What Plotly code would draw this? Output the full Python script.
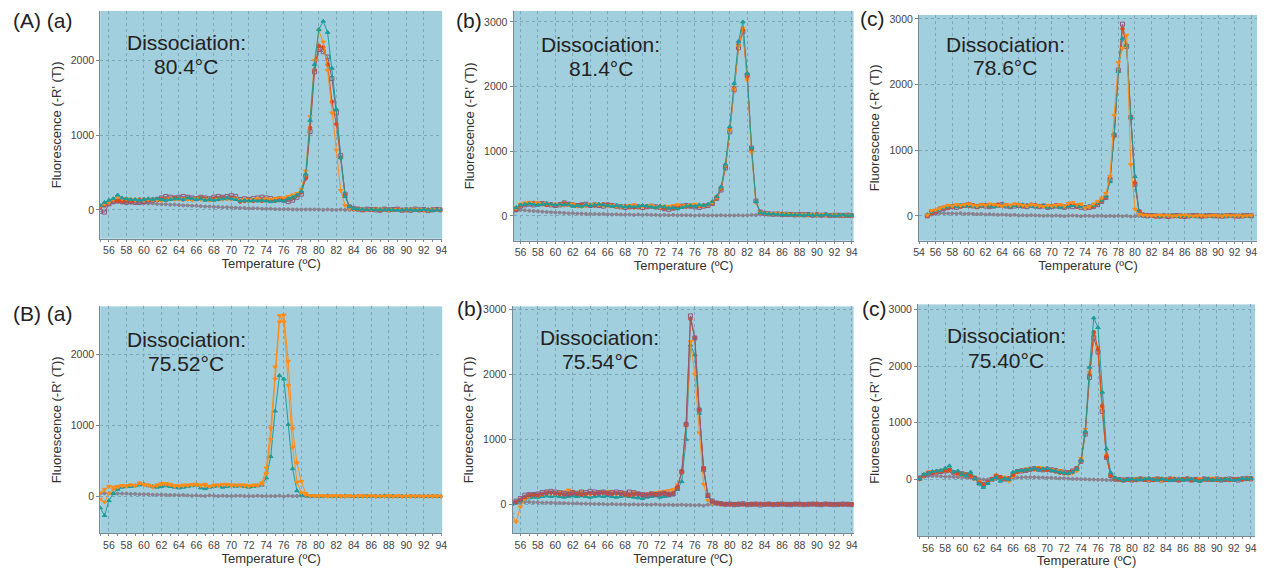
import plotly.graph_objects as go

W, H = 1267, 568

# ---------------- data ----------------
TEMP = [55.0, 55.5, 56.0, 56.5, 57.0, 57.5, 58.0, 58.5, 59.0, 59.5,
        60.0, 60.5, 61.0, 61.5, 62.0, 62.5, 63.0, 63.5, 64.0, 64.5,
        65.0, 65.5, 66.0, 66.5, 67.0, 67.5, 68.0, 68.5, 69.0, 69.5,
        70.0, 70.5, 71.0, 71.5, 72.0, 72.5, 73.0, 73.5, 74.0, 74.5,
        75.0, 75.5, 76.0, 76.5, 77.0, 77.5, 78.0, 78.5, 79.0, 79.5,
        80.0, 80.5, 81.0, 81.5, 82.0, 82.5, 83.0, 83.5, 84.0, 84.5,
        85.0, 85.5, 86.0, 86.5, 87.0, 87.5, 88.0, 88.5, 89.0, 89.5,
        90.0, 90.5, 91.0, 91.5, 92.0, 92.5, 93.0, 93.5, 94.0]

PANEL_LABELS = ["(A) (a)", "(b)", "(c)", "(B) (a)", "(b)", "(c)"]
TM_LABELS = ["80.4°C", "81.4°C", "78.6°C", "75.52°C", "75.54°C", "75.40°C"]
X_TITLE = "Temperature (ºC)"
Y_TITLE = "Fluorescence (-R' (T))"

# Panel A(a)
AA_TEAL = [60, 100, 130, 150, 200, 160, 150, 140, 140, 130,
           140, 150, 140, 150, 140, 130, 140, 150, 150, 140,
           160, 150, 140, 150, 130, 140, 130, 140, 150, 160,
           150, 140, 120, 130, 120, 130, 120, 130, 120, 110,
           120, 130, 120, 150, 170, 200, 250, 480, 1200, 1950,
           2420, 2530, 2380, 1900, 1350, 700, 180, 40, 20, 10,
           10, 5, 10, 0, 5, 0, 5, 0, -5, 0,
           5, 0, -5, 0, 5, 0, -5, 0, 0]
AA_ORANGE = [50, 80, 100, 140, 170, 150, 150, 140, 130, 130,
             130, 140, 140, 130, 120, 130, 150, 140, 140, 150,
             140, 130, 150, 140, 140, 130, 130, 140, 140, 150,
             140, 150, 130, 140, 130, 140, 150, 140, 150, 140,
             150, 160, 160, 180, 200, 220, 280, 520, 1250, 2000,
             2400, 2250, 1870, 1300, 800, 260, 60, 20, 10, 5,
             10, 0, 5, 0, 10, 0, -5, 5, 0, 0,
             5, 0, 0, 5, 0, -5, 0, 0, 5]
AA_RED = [40, 70, 110, 130, 120, 120, 130, 120, 130, 140,
          140, 130, 140, 140, 150, 140, 150, 160, 150, 140,
          150, 140, 150, 160, 150, 140, 150, 150, 160, 150,
          160, 150, 110, 120, 130, 120, 130, 120, 130, 130,
          120, 130, 140, 150, 160, 200, 240, 420, 1100, 1880,
          2200, 2180, 1950, 1450, 1150, 700, 200, 40, 10, 10,
          5, 0, 5, 10, 0, 5, 0, 0, 5, 0,
          0, 5, 0, 0, -5, 0, 5, 0, 0]
AA_PURPLE = [-20, -30, 80, 110, 120, 110, 100, 110, 100, 100,
             110, 120, 130, 140, 160, 180, 170, 160, 170, 180,
             170, 160, 150, 170, 160, 150, 170, 180, 170, 180,
             190, 180, 140, 150, 140, 150, 160, 170, 160, 150,
             140, 150, 130, 110, 130, 170, 210, 450, 1050, 1850,
             2150, 2120, 2050, 1760, 1300, 730, 210, 40, 20, 10,
             0, 10, 5, 0, -5, 10, 0, 5, 10, -5,
             0, -5, 10, 0, 5, -10, 0, 5, 0]
AA_GRAY = [30, 50, 80, 100, 110, 100, 100, 95, 95, 90,
           90, 85, 85, 80, 75, 75, 70, 70, 65, 60,
           60, 55, 55, 50, 45, 45, 40, 40, 35, 35,
           30, 30, 25, 25, 20, 20, 20, 15, 15, 15,
           10, 10, 10, 10, 5, 5, 5, 5, 5, 5,
           5, 0, 5, 0, 0, 5, 0, 0, 5, 0,
           0, 0, 5, 0, 0, 0, 5, 0, 0, 0,
           0, 5, 0, 0, 0, 5, 0, 0, 0]

# Panel A(b)
AB_TEAL = [70, 130, 170, 180, 190, 180, 170, 180, 190, 180,
           170, 180, 170, 180, 150, 160, 150, 170, 160, 170,
           180, 170, 160, 150, 160, 150, 140, 150, 140, 150,
           160, 150, 140, 130, 150, 140, 120, 130, 110, 130,
           150, 160, 150, 170, 160, 180, 220, 300, 450, 800,
           1380, 2050, 2700, 3000, 2200, 1050, 220, 50, 40, 30,
           30, 25, 20, 20, 15, 20, 15, 10, 20, 10,
           15, 10, 20, 10, 5, 10, 15, 5, 10]
AB_ORANGE = [60, 120, 180, 200, 210, 190, 200, 180, 190, 170,
             180, 170, 160, 170, 180, 150, 140, 160, 170, 180,
             170, 160, 150, 160, 150, 140, 150, 160, 170, 150,
             140, 150, 160, 140, 130, 150, 140, 160, 170, 150,
             160, 170, 180, 160, 150, 170, 210, 290, 440, 780,
             1320, 1960, 2620, 2900, 2100, 980, 200, 50, 40, 35,
             30, 40, 25, 30, 20, 25, 15, 20, 15, 20,
             10, 20, 15, 10, 15, 10, 5, 10, 5]
AB_RED = [50, 110, 160, 180, 190, 200, 190, 180, 170, 180,
          170, 180, 190, 180, 170, 160, 170, 160, 170, 160,
          170, 180, 170, 160, 150, 140, 150, 140, 130, 140,
          150, 140, 150, 130, 140, 120, 130, 120, 140, 150,
          140, 150, 160, 150, 160, 170, 200, 280, 420, 760,
          1340, 1980, 2650, 2870, 2150, 1020, 210, 50, 40, 30,
          30, 25, 30, 20, 25, 20, 15, 20, 10, 15,
          20, 10, 15, 10, 10, 5, 10, 5, 5]
AB_PURPLE = [50, 100, 150, 170, 180, 170, 180, 190, 180, 170,
             160, 170, 200, 180, 170, 160, 170, 180, 160, 170,
             160, 150, 170, 160, 150, 140, 130, 140, 150, 140,
             130, 140, 150, 140, 130, 110, 100, 120, 140, 150,
             160, 150, 140, 130, 150, 160, 190, 270, 400, 740,
             1300, 1950, 2600, 2850, 2180, 1050, 230, 60, 40, 30,
             25, 30, 20, 25, 20, 15, 20, 15, 20, 10,
             15, 10, 15, 5, 10, 10, 5, 10, 5]
AB_GRAY = [60, 80, 90, 85, 80, 75, 70, 65, 60, 55,
           50, 50, 45, 40, 40, 35, 35, 30, 30, 30,
           25, 30, 25, 20, 25, 20, 20, 20, 15, 20,
           15, 20, 15, 15, 10, 15, 10, 15, 10, 10,
           10, 10, 5, 10, 10, 5, 10, 5, 10, 5,
           10, 5, 10, 5, 10, 15, 10, 20, 20, 25,
           20, 25, 20, 20, 15, 20, 15, 15, 20, 15,
           15, 10, 15, 10, 10, 10, 10, 5, 5]

# Panel A(c)
AC_TEAL = [20, 60, 80, 100, 130, 140, 150, 140, 160, 150,
           160, 150, 140, 150, 160, 150, 140, 150, 160, 150,
           140, 160, 150, 170, 160, 150, 140, 150, 160, 130,
           140, 150, 130, 140, 150, 160, 150, 140, 130, 150,
           160, 200, 240, 300, 520, 1250, 2200, 2700, 2600, 1500,
           600, 30, 10, 0, 5, 0, -5, 0, 5, 0,
           -5, 0, 5, -10, 0, -5, 5, 0, 0, -5,
           0, 5, 0, -5, 0, 5, 0, -5, 0]
AC_ORANGE = [10, 80, 90, 110, 140, 160, 150, 170, 160, 170,
             180, 160, 150, 170, 160, 180, 170, 160, 150, 170,
             160, 180, 170, 160, 150, 170, 160, 150, 140, 160,
             150, 160, 170, 150, 190, 200, 170, 180, 120, 140,
             180, 220, 270, 340, 600, 1530, 2330, 2550, 2750, 780,
             100, 20, 10, 5, 0, 5, 10, 0, 5, -5,
             0, 5, 10, 0, -5, 0, 5, -5, 0, 5,
             0, -5, 5, 0, 0, 5, -5, 0, 5]
AC_RED = [0, 40, 70, 110, 120, 130, 140, 150, 140, 160,
          150, 160, 140, 150, 160, 150, 160, 170, 150, 160,
          150, 170, 160, 150, 160, 170, 160, 150, 150, 140,
          150, 160, 150, 140, 150, 170, 140, 150, 130, 140,
          150, 190, 230, 290, 580, 1220, 2200, 2850, 2600, 1500,
          500, 70, 20, 10, 0, -10, -5, 0, 5, 0,
          -5, -10, 0, -5, 0, 5, -5, 0, 5, 0,
          -5, 0, 5, 0, -5, 0, 5, 0, 0]
AC_PURPLE = [0, 50, 60, 100, 110, 130, 140, 130, 150, 160,
             170, 150, 140, 160, 150, 140, 150, 160, 170, 150,
             140, 150, 160, 150, 140, 160, 150, 140, 150, 130,
             140, 150, 140, 130, 150, 140, 150, 130, 120, 130,
             140, 170, 220, 280, 550, 1230, 2220, 2920, 2580, 1500,
             480, 60, 10, 0, 5, 0, -5, 0, -10, 0,
             5, 0, -10, 0, 5, 0, -5, 0, 5, 0,
             0, -5, 0, 5, 0, -5, 0, 5, 0]
AC_GRAY = [0, 20, 30, 40, 40, 35, 40, 35, 40, 30,
           35, 30, 25, 30, 20, 25, 20, 15, 20, 15,
           10, 15, 5, 10, 5, 10, 5, 5, 0, 5,
           0, 5, 0, -5, 0, 5, 0, -5, 0, 0,
           -5, 0, 0, -5, 0, -5, 0, -5, 0, -10,
           -5, 0, -5, 0, 0, 5, 0, 0, -5, 0,
           0, 5, 0, -5, 0, 0, 5, 0, 0, -5,
           0, 5, 0, 0, -5, 0, 0, 5, 0]

# Panel B(a)
BA_TEAL = [-160, -270, -60, 40, 100, 130, 140, 140, 150, 160,
           170, 150, 140, 130, 140, 150, 140, 130, 120, 130,
           140, 150, 160, 120, 110, 130, 140, 150, 130, 140,
           150, 140, 150, 140, 130, 140, 150, 160, 260, 560,
           1200, 1700, 1650, 1010, 390, 80, 20, 10, 0, 5,
           0, 5, 10, 0, 5, 0, 10, 5, 0, 5,
           0, 5, 0, 5, 0, 10, 0, 5, 0, 5,
           0, 5, 0, 0, 5, 0, 5, 0, 0]
BA_ORANGE = [50, 100, 140, 130, 140, 150, 150, 160, 150, 190,
             170, 160, 140, 150, 170, 180, 170, 150, 140, 150,
             160, 170, 160, 150, 170, 140, 150, 160, 170, 160,
             150, 160, 150, 160, 150, 160, 150, 190, 400, 960,
             1820, 2540, 2450, 1560, 690, 200, 50, 20, 10, 5,
             10, 5, 0, 10, 5, 0, 5, 10, 0, 5,
             0, 5, 10, 0, 5, 0, 5, 0, 10, 0,
             5, 0, 5, 0, 0, 5, 0, 5, 0]
BA_ORANGE2 = [-40, -80, 40, 100, 130, 150, 140, 160, 150, 180,
              160, 150, 130, 160, 180, 170, 160, 140, 150, 160,
              150, 160, 170, 160, 150, 140, 160, 150, 160, 170,
              160, 150, 160, 150, 140, 150, 160, 170, 320, 800,
              1650, 2450, 2550, 1900, 950, 470, 210, 40, 10, 5,
              0, 10, 5, 0, 5, 10, 0, 5, 0, 5,
              10, 0, 5, 0, 0, 5, 10, 0, 5, 0,
              0, 5, 0, 5, 0, 0, 5, 0, 5]
BA_GRAY = [40, 45, 45, 45, 40, 40, 40, 35, 35, 30,
           30, 30, 25, 25, 25, 20, 20, 20, 15, 20,
           15, 10, 15, 10, 5, 15, 10, 5, 10, 5,
           5, 10, 10, 5, 5, 5, 10, 5, 5, 5,
           5, 10, 0, 10, 5, 5, 10, 5, 0, 5,
           5, 0, 5, 5, 0, 5, 0, 5, 5, 0,
           5, 0, 5, 0, 5, 5, 0, 5, 0, 5,
           0, 5, 0, 5, 0, 5, 0, 5, 0]

# Panel B(b)
BB_TEAL = [0, 20, 50, 80, 100, 110, 110, 120, 130, 120,
           130, 120, 110, 120, 130, 120, 130, 120, 110, 120,
           130, 120, 130, 120, 110, 120, 130, 120, 110, 100,
           90, 110, 120, 130, 110, 120, 130, 150, 230, 350,
           1000, 2450, 2300, 1400, 520, 120, 40, 20, 10, 0,
           10, 0, 5, -5, 0, 5, -5, 0, 5, -5,
           0, -5, 5, 0, -10, 0, 5, -5, 0, 5,
           0, -5, 0, 5, 0, -5, 0, 5, 0]
BB_ORANGE = [-150, -270, -40, 80, 120, 140, 130, 150, 190, 170,
             160, 180, 190, 220, 200, 170, 190, 160, 150, 180,
             190, 170, 200, 180, 160, 190, 170, 160, 180, 170,
             150, 160, 170, 180, 190, 200, 210, 230, 300, 480,
             1200, 2500, 2000, 1100, 310, 60, 20, 10, 0, 5,
             -5, 0, 10, -5, 0, 5, 0, -5, 10, 0,
             5, -5, 0, 5, 0, 10, -5, 0, 5, 0,
             5, 0, -5, 0, 5, 10, 0, 5, 0]
BB_RED = [10, 40, 70, 110, 140, 150, 140, 160, 170, 180,
          170, 160, 150, 160, 170, 160, 150, 160, 170, 160,
          170, 180, 170, 160, 170, 160, 150, 140, 150, 160,
          140, 150, 160, 150, 160, 170, 160, 170, 260, 510,
          1240, 2850, 2560, 1460, 560, 130, 40, 20, 10, 5,
          0, 5, 10, 0, -5, 5, 0, 10, 0, 5,
          0, 5, 0, -5, 5, 0, 10, 0, 5, 0,
          10, 0, 5, 0, 5, 0, -5, 5, 0]
BB_PURPLE = [20, 50, 90, 140, 150, 150, 160, 180, 190, 200,
             190, 180, 170, 160, 180, 170, 190, 180, 200, 190,
             180, 190, 170, 180, 190, 180, 170, 190, 180, 160,
             150, 140, 160, 150, 160, 170, 150, 160, 250, 500,
             1230, 2900, 2560, 1450, 550, 140, 50, 20, 10, 0,
             5, -5, 0, 10, -5, 0, 5, -10, 0, 5,
             -5, 0, 5, 0, -5, 5, 0, -5, 0, 5,
             0, -5, 5, 0, -5, 0, 5, 0, -5]
BB_GRAY = [10, 20, 30, 35, 35, 30, 30, 25, 25, 25,
           20, 20, 20, 15, 15, 15, 10, 10, 10, 5,
           5, 5, 0, 5, 0, 0, 0, -5, 0, -5,
           0, -5, -5, 0, -5, -10, -5, -10, -10, -5,
           -10, -10, -15, -10, -20, -5, 0, 5, 0, 5,
           0, 5, 0, 5, 0, 0, 5, 0, 5, 0,
           5, 0, 0, 5, 0, 5, 0, 0, 5, 0,
           0, 5, 0, 5, 0, 0, 5, 0, 0]

# Panel B(c)
BC_TEAL = [10, 90, 110, 140, 150, 160, 200, 240, 130, 150,
           90, 70, 130, 20, -80, -140, -70, 0, 40, -30,
           20, 0, 130, 150, 160, 170, 180, 200, 170, 190,
           200, 160, 150, 130, 120, 110, 130, 180, 340, 850,
           1980, 2850, 2680, 1540, 540, 120, 30, 10, -10, 0,
           10, -5, 0, 10, 20, 0, -10, 10, 0, -20,
           0, 10, -10, 0, 10, -20, -30, 0, 10, -10,
           0, -10, 10, 0, -10, 0, 20, 10, 20]
BC_ORANGE = [0, 70, 130, 140, 130, 150, 170, 160, 120, 100,
             90, 80, 60, 10, -40, -110, -60, -10, 80, 20,
             40, -30, 60, 120, 150, 180, 190, 170, 210, 200,
             180, 170, 160, 150, 120, 100, 110, 150, 370, 880,
             1890, 2560, 2330, 1250, 420, 80, 20, -10, 0, -5,
             -10, 10, 0, 20, -10, 10, 0, -20, 10, 0,
             20, -10, 0, 10, -20, 0, 10, -10, 0, 20,
             0, -10, 10, 0, -10, 10, 0, 20, 10]
BC_RED = [10, 80, 120, 120, 140, 150, 160, 170, 130, 110,
          100, 90, 70, 30, -60, -100, -60, 10, 60, 40,
          10, 20, 80, 140, 160, 170, 180, 190, 190, 180,
          170, 160, 140, 120, 110, 120, 140, 200, 330, 830,
          1850, 2600, 2300, 1300, 400, 80, 20, 0, -10, 0,
          0, -10, 10, 0, 10, -10, 0, 10, -10, 0,
          10, -10, 0, 10, -10, 0, -20, 0, 10, 0,
          -10, 0, 10, -10, 0, 10, 0, 10, 20]
BC_PURPLE = [20, 70, 100, 120, 130, 140, 150, 160, 120, 110,
             100, 80, 60, 20, -50, -90, -50, 0, 50, 30,
             10, 0, 90, 140, 150, 160, 180, 190, 180, 170,
             180, 170, 160, 140, 130, 120, 150, 190, 320, 800,
             1800, 2500, 2250, 1200, 390, 70, 10, 0, -10, 0,
             -10, 0, 10, 0, -10, 0, 10, -10, 0, 10,
             0, -10, 0, 10, -10, 0, -10, 10, 0, 0,
             10, -10, 0, 10, 0, -10, 10, 20, 10]
BC_GRAY = [40, 50, 60, 60, 60, 55, 50, 50, 45, 40,
           40, 35, 30, 20, 10, 0, 0, 5, 10, 15,
           20, 25, 30, 35, 40, 40, 40, 40, 35, 35,
           30, 30, 25, 20, 20, 15, 10, 10, 5, 5,
           0, 0, -5, -5, -10, -10, -10, -5, -5, -10,
           -5, -10, -5, 0, -5, 0, 5, 0, -5, 0,
           5, 0, -5, 0, 5, 0, -5, 0, 5, 0,
           0, 5, 0, -5, 0, 5, 0, 5, 10]

PANEL_SERIES = [
    [("gray", AA_GRAY), ("purple", AA_PURPLE), ("red", AA_RED), ("orange", AA_ORANGE), ("teal", AA_TEAL)],
    [("gray", AB_GRAY), ("purple", AB_PURPLE), ("red", AB_RED), ("orange", AB_ORANGE), ("teal", AB_TEAL)],
    [("gray", AC_GRAY), ("purple", AC_PURPLE), ("red", AC_RED), ("teal", AC_TEAL), ("orange", AC_ORANGE)],
    [("gray", BA_GRAY), ("teal", BA_TEAL), ("orange", BA_ORANGE2), ("orange", BA_ORANGE)],
    [("gray", BB_GRAY), ("teal", BB_TEAL), ("orange", BB_ORANGE), ("red", BB_RED), ("purple", BB_PURPLE)],
    [("gray", BC_GRAY), ("purple", BC_PURPLE), ("orange", BC_ORANGE), ("red", BC_RED), ("teal", BC_TEAL)],
]

for ser in PANEL_SERIES:
    for name, vals in ser:
        assert len(vals) == len(TEMP), (name, len(vals))

# ---------------- styles / layout ----------------
STYLE = {
    "teal": dict(color="#1f9c9c", symbol="triangle-up", size=4),
    "orange": dict(color="#ff8c1a", symbol="triangle-down", size=4),
    "red": dict(color="#e0481c", symbol="circle", size=3.5),
    "purple": dict(color="#8c5a7c", symbol="square-open", size=4),
    "gray": dict(color="#8a8290", symbol="circle", size=3),
}

# pixel boxes (left, top, right, bottom), x range, y range, y ticks, x tick start
PANELS = [
    dict(box=(95, 8, 440, 237), xr=[55.0, 94.1], yr=[-387, 2667], yt=[0, 1000, 2000], x0=56),
    dict(box=(512, 8, 855, 239), xr=[55.2, 94.2], yr=[-385, 3170], yt=[0, 1000, 2000, 3000], x0=56),
    dict(box=(921, 12, 1262, 239), xr=[54.0, 94.7], yr=[-379, 3060], yt=[0, 1000, 2000, 3000], x0=54),
    dict(box=(95, 305, 440, 533), xr=[55.0, 94.1], yr=[-517, 2671], yt=[0, 1000, 2000], x0=56),
    dict(box=(511, 305, 855, 533), xr=[55.1, 94.2], yr=[-444, 3046], yt=[0, 1000, 2000, 3000], x0=56),
    dict(box=(920, 303, 1260, 536), xr=[54.8, 94.5], yr=[-1000, 3088], yt=[0, 1000, 2000, 3000], x0=56),
]
LABEL_POS = [(5, 18), (452, 18), (859, 16), (5, 312), (453, 307), (861, 307)]
TEXT_POS = [(182, 40, 64), (600, 42, 66), (1008, 42, 65), (182, 338, 362), (599, 336, 360), (1009, 334, 359)]

FONT = "Liberation Sans, Arial, sans-serif"
BG = "#a2cfdd"
GRID = "#7fa6b8"

fig = go.Figure()
layout = dict(
    width=W, height=H, margin=dict(l=0, r=0, t=0, b=0),
    paper_bgcolor="white", showlegend=False,
    font=dict(family=FONT, color="#444", size=11),
    annotations=[], shapes=[],
)

for i, (p, ser) in enumerate(zip(PANELS, PANEL_SERIES)):
    n = i + 1
    xa = "x" if n == 1 else f"x{n}"
    ya = "y" if n == 1 else f"y{n}"
    l, t, r, b = p["box"]
    for name, vals in ser:
        st = STYLE[name]
        fig.add_trace(go.Scatter(
            x=TEMP, y=vals, xaxis=xa, yaxis=ya, mode="lines+markers",
            line=dict(color=st["color"], width=1),
            marker=dict(color=st["color"], symbol=st["symbol"], size=st["size"],
                        line=dict(color=st["color"], width=1)),
            hoverinfo="skip",
        ))
    xkey = "xaxis" if n == 1 else f"xaxis{n}"
    ykey = "yaxis" if n == 1 else f"yaxis{n}"
    layout[xkey] = dict(
        domain=[l / W, r / W], anchor=ya, range=p["xr"],
        tickmode="array", tickvals=list(range(p["x0"], 95, 2)),
        showgrid=True, gridcolor=GRID, griddash="dot", gridwidth=1,
        zeroline=False, showline=True, linecolor="#7a8a94", linewidth=1,
        ticks="outside", ticklen=2, tickcolor="#7a8a94",
        minor=dict(dtick=1, ticks="outside", ticklen=2, tickcolor="#7a8a94", showgrid=False),
        tickfont=dict(size=10.5, color="#444"),
        title=dict(text=X_TITLE, font=dict(size=13, color="#333"), standoff=0),
    )
    layout[ykey] = dict(
        domain=[1 - b / H, 1 - t / H], anchor=xa, range=p["yr"],
        tickmode="array", tickvals=p["yt"],
        showgrid=True, gridcolor=GRID, griddash="dot", gridwidth=1,
        zeroline=False, showline=True, linecolor="#7a8a94", linewidth=1,
        ticks="outside", ticklen=3, tickcolor="#7a8a94",
        tickfont=dict(size=10.5, color="#444"),
        title=dict(text=Y_TITLE, font=dict(size=13, color="#333"), standoff=6),
    )
    lx, ly = LABEL_POS[i]
    layout["annotations"].append(dict(
        text=PANEL_LABELS[i], x=lx / W, y=1 - ly / H, xref="paper", yref="paper",
        xanchor="left", yanchor="middle", showarrow=False,
        font=dict(size=21, color="#222", family=FONT)))
    cx, y1, y2 = TEXT_POS[i]
    layout["annotations"].append(dict(
        text="Dissociation:", x=cx / W, y=1 - y1 / H, xref="paper", yref="paper",
        xanchor="center", yanchor="middle", showarrow=False,
        font=dict(size=21, color="#222", family=FONT)))
    layout["annotations"].append(dict(
        text=TM_LABELS[i], x=cx / W, y=1 - y2 / H, xref="paper", yref="paper",
        xanchor="center", yanchor="middle", showarrow=False,
        font=dict(size=21, color="#222", family=FONT)))

fig.update_layout(**layout)
fig.update_layout(plot_bgcolor=BG)
fig.write_html("out.html", config={"displayModeBar": False},
               post_script="document.body.style.margin='0px';document.body.style.overflow='hidden';")
